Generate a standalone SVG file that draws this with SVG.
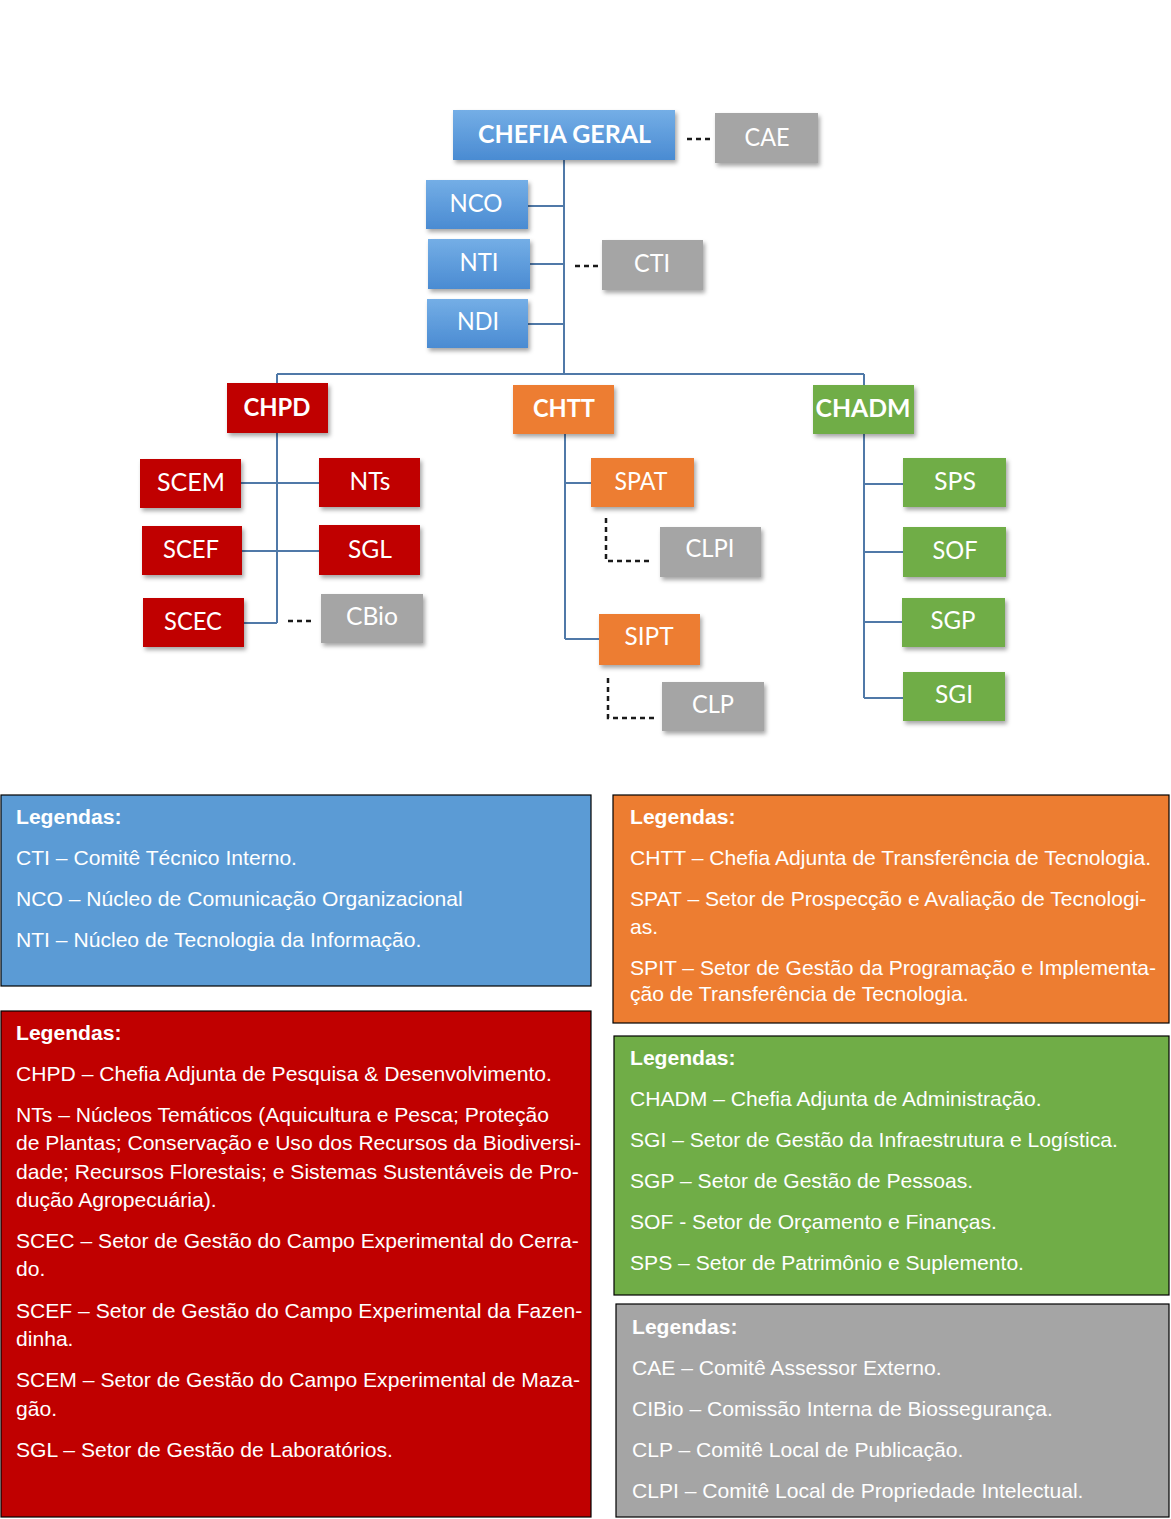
<svg xmlns="http://www.w3.org/2000/svg" width="1171" height="1519" viewBox="0 0 1171 1519">
<style>
.node text{font-family:Lato,"Open Sans","Liberation Sans",sans-serif;font-size:25px;fill:#fff;text-anchor:middle}
.node text.b{font-weight:bold}
.blue rect{fill:url(#gBlue)}
.red rect{fill:#C00000}
.orange rect{fill:#ED7D31}
.green rect{fill:#70AD47}
.gray rect{fill:#A5A5A5}
.conn{stroke:#5079A8;stroke-width:2;fill:none}
.dash{stroke:#1a1a1a;stroke-width:2.5;fill:none;stroke-dasharray:5 4}
.leg rect{stroke:#000;stroke-width:1.2}
.leg text{font-family:"Liberation Sans",Arial,sans-serif;font-size:21.1px;fill:#fff}
.leg text.h{font-weight:bold}
</style>
<defs>
<linearGradient id="gBlue" x1="0" y1="0" x2="0" y2="1">
<stop offset="0" stop-color="#74AEE6"/>
<stop offset="1" stop-color="#4A8BD2"/>
</linearGradient>
<filter id="sh" x="-10%" y="-10%" width="130%" height="140%">
<feDropShadow dx="2" dy="3" stdDeviation="2" flood-color="#000" flood-opacity="0.35"/>
</filter>
</defs>
<rect width="1171" height="1519" fill="#fff"/>

<g id="connectors">
<path class="conn" d="M564 160V374M528 206H564M530 264H564M528 324H564"/>
<path class="conn" d="M277 374H864M277 374V383M864 374V385"/>
<path class="conn" d="M277 433V623M241 483H319M242 551H319M244 623H277"/>
<path class="conn" d="M565 434V639M565 483H591M565 639H599"/>
<path class="conn" d="M864 434V698M864 484H903M864 552H903M864 622H902M864 698H903"/>
<path class="dash" d="M687 139H711"/>
<path class="dash" d="M575 266H599"/>
<path class="dash" d="M288 621H312"/>
<path class="dash" d="M606 518V561H651"/>
<path class="dash" d="M608 678V718H654"/>
</g>

<g id="n-chefia" class="node blue"><rect x="453" y="110" width="222" height="50" filter="url(#sh)"/><text class="b" x="564.5" y="143" textLength="173" lengthAdjust="spacingAndGlyphs">CHEFIA GERAL</text></g>
<g id="n-cae" class="node gray"><rect x="715" y="113" width="103" height="50" filter="url(#sh)"/><text x="767" y="146" textLength="45" lengthAdjust="spacingAndGlyphs">CAE</text></g>
<g id="n-nco" class="node blue"><rect x="426" y="180" width="102" height="49" filter="url(#sh)"/><text x="476" y="212" textLength="53" lengthAdjust="spacingAndGlyphs">NCO</text></g>
<g id="n-nti" class="node blue"><rect x="428" y="239" width="102" height="50" filter="url(#sh)"/><text x="479" y="271" textLength="39" lengthAdjust="spacingAndGlyphs">NTI</text></g>
<g id="n-ndi" class="node blue"><rect x="427" y="299" width="101" height="49" filter="url(#sh)"/><text x="478" y="330" textLength="42" lengthAdjust="spacingAndGlyphs">NDI</text></g>
<g id="n-cti" class="node gray"><rect x="602" y="240" width="101" height="50" filter="url(#sh)"/><text x="652" y="272" textLength="36" lengthAdjust="spacingAndGlyphs">CTI</text></g>

<g id="n-chpd" class="node red"><rect x="227" y="383" width="101" height="50" filter="url(#sh)"/><text class="b" x="277" y="416" textLength="67" lengthAdjust="spacingAndGlyphs">CHPD</text></g>
<g id="n-scem" class="node red"><rect x="140" y="459" width="101" height="49" filter="url(#sh)"/><text x="191" y="491" textLength="68" lengthAdjust="spacingAndGlyphs">SCEM</text></g>
<g id="n-nts" class="node red"><rect x="319" y="458" width="101" height="49" filter="url(#sh)"/><text x="370" y="490" textLength="41" lengthAdjust="spacingAndGlyphs">NTs</text></g>
<g id="n-scef" class="node red"><rect x="142" y="526" width="100" height="49" filter="url(#sh)"/><text x="191" y="558" textLength="56" lengthAdjust="spacingAndGlyphs">SCEF</text></g>
<g id="n-sgl" class="node red"><rect x="319" y="525" width="101" height="50" filter="url(#sh)"/><text x="370" y="558" textLength="44" lengthAdjust="spacingAndGlyphs">SGL</text></g>
<g id="n-scec" class="node red"><rect x="143" y="598" width="101" height="49" filter="url(#sh)"/><text x="193" y="630" textLength="58" lengthAdjust="spacingAndGlyphs">SCEC</text></g>
<g id="n-cbio" class="node gray"><rect x="321" y="594" width="102" height="49" filter="url(#sh)"/><text x="372" y="625" textLength="52" lengthAdjust="spacingAndGlyphs">CBio</text></g>

<g id="n-chtt" class="node orange"><rect x="513" y="385" width="101" height="49" filter="url(#sh)"/><text class="b" x="564" y="417" textLength="62" lengthAdjust="spacingAndGlyphs">CHTT</text></g>
<g id="n-spat" class="node orange"><rect x="591" y="458" width="103" height="49" filter="url(#sh)"/><text x="641" y="490" textLength="53" lengthAdjust="spacingAndGlyphs">SPAT</text></g>
<g id="n-clpi" class="node gray"><rect x="660" y="527" width="101" height="50" filter="url(#sh)"/><text x="710" y="557" textLength="49" lengthAdjust="spacingAndGlyphs">CLPI</text></g>
<g id="n-sipt" class="node orange"><rect x="599" y="614" width="101" height="51" filter="url(#sh)"/><text x="649" y="645" textLength="49" lengthAdjust="spacingAndGlyphs">SIPT</text></g>
<g id="n-clp" class="node gray"><rect x="662" y="682" width="102" height="49" filter="url(#sh)"/><text x="713" y="713" textLength="42" lengthAdjust="spacingAndGlyphs">CLP</text></g>

<g id="n-chadm" class="node green"><rect x="813" y="385" width="101" height="49" filter="url(#sh)"/><text class="b" x="863" y="417" textLength="95" lengthAdjust="spacingAndGlyphs">CHADM</text></g>
<g id="n-sps" class="node green"><rect x="903" y="458" width="103" height="49" filter="url(#sh)"/><text x="955" y="490" textLength="42" lengthAdjust="spacingAndGlyphs">SPS</text></g>
<g id="n-sof" class="node green"><rect x="903" y="527" width="103" height="50" filter="url(#sh)"/><text x="955" y="559" textLength="45" lengthAdjust="spacingAndGlyphs">SOF</text></g>
<g id="n-sgp" class="node green"><rect x="902" y="598" width="103" height="49" filter="url(#sh)"/><text x="953" y="629" textLength="45" lengthAdjust="spacingAndGlyphs">SGP</text></g>
<g id="n-sgi" class="node green"><rect x="903" y="672" width="102" height="49" filter="url(#sh)"/><text x="954" y="703" textLength="38" lengthAdjust="spacingAndGlyphs">SGI</text></g>

<g id="legend-blue" class="leg">
<rect x="1" y="795" width="590" height="191" fill="#5B9BD5"/>
<text class="h" x="16" y="824">Legendas:</text>
<text x="16" y="865">CTI – Comitê Técnico Interno.</text>
<text x="16" y="906">NCO – Núcleo de Comunicação Organizacional</text>
<text x="16" y="947">NTI – Núcleo de Tecnologia da Informação.</text>
</g>
<g id="legend-red" class="leg">
<rect x="1" y="1011" width="590" height="506" fill="#C00000"/>
<text class="h" x="16" y="1040">Legendas:</text>
<text x="16" y="1081">CHPD – Chefia Adjunta de Pesquisa &amp; Desenvolvimento.</text>
<text x="16" y="1122">NTs – Núcleos Temáticos (Aquicultura e Pesca; Proteção</text>
<text x="16" y="1150">de Plantas; Conservação e Uso dos Recursos da Biodiversi-</text>
<text x="16" y="1179">dade; Recursos Florestais; e Sistemas Sustentáveis de Pro-</text>
<text x="16" y="1207">dução Agropecuária).</text>
<text x="16" y="1248">SCEC – Setor de Gestão do Campo Experimental do Cerra-</text>
<text x="16" y="1276">do.</text>
<text x="16" y="1318">SCEF – Setor de Gestão do Campo Experimental da Fazen-</text>
<text x="16" y="1346">dinha.</text>
<text x="16" y="1387">SCEM – Setor de Gestão do Campo Experimental de Maza-</text>
<text x="16" y="1416">gão.</text>
<text x="16" y="1457">SGL – Setor de Gestão de Laboratórios.</text>
</g>
<g id="legend-orange" class="leg">
<rect x="613" y="795" width="556" height="228" fill="#ED7D31"/>
<text class="h" x="630" y="824">Legendas:</text>
<text x="630" y="865">CHTT – Chefia Adjunta de Transferência de Tecnologia.</text>
<text x="630" y="906">SPAT – Setor de Prospecção e Avaliação de Tecnologi-</text>
<text x="630" y="934">as.</text>
<text x="630" y="975">SPIT – Setor de Gestão da Programação e Implementa-</text>
<text x="630" y="1001">ção de Transferência de Tecnologia.</text>
</g>
<g id="legend-green" class="leg">
<rect x="614" y="1036" width="555" height="259" fill="#70AD47"/>
<text class="h" x="630" y="1065">Legendas:</text>
<text x="630" y="1106">CHADM – Chefia Adjunta de Administração.</text>
<text x="630" y="1147">SGI – Setor de Gestão da Infraestrutura e Logística.</text>
<text x="630" y="1188">SGP – Setor de Gestão de Pessoas.</text>
<text x="630" y="1229">SOF - Setor de Orçamento e Finanças.</text>
<text x="630" y="1270">SPS – Setor de Patrimônio e Suplemento.</text>
</g>
<g id="legend-gray" class="leg">
<rect x="616" y="1304" width="553" height="213" fill="#A5A5A5"/>
<text class="h" x="632" y="1334">Legendas:</text>
<text x="632" y="1375">CAE – Comitê Assessor Externo.</text>
<text x="632" y="1416">CIBio – Comissão Interna de Biossegurança.</text>
<text x="632" y="1457">CLP – Comitê Local de Publicação.</text>
<text x="632" y="1498">CLPI – Comitê Local de Propriedade Intelectual.</text>
</g>
</svg>
